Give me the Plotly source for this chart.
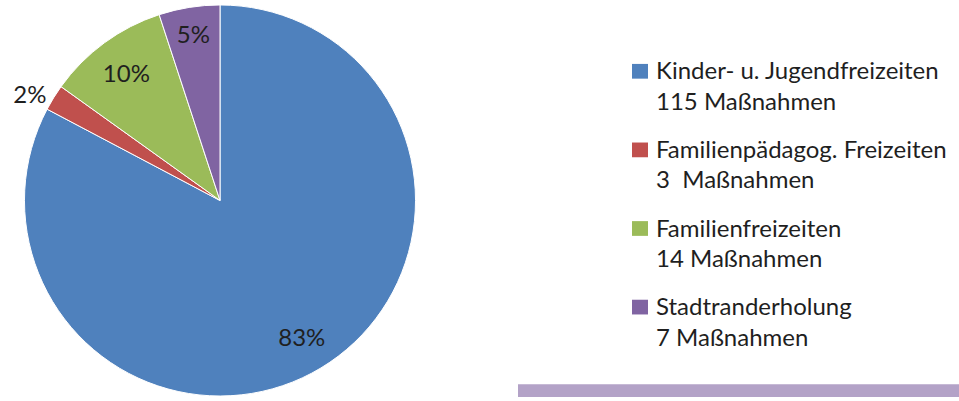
import plotly.graph_objects as go

categories = ["Kinder- u. Jugendfreizeiten", "Familienpädagog. Freizeiten",
              "Familienfreizeiten", "Stadtranderholung"]
counts = [115, 3, 14, 7]
count_labels = ["115 Maßnahmen", "3  Maßnahmen", "14 Maßnahmen", "7 Maßnahmen"]
colors = ["#4F81BD", "#C0504D", "#9BBB59", "#8064A2"]
text_positions = ["inside", "outside", "inside", "inside"]

W, H = 959, 401
FONT = "Lato"
TXT = "#1f1f1f"
FS = 24

domain = dict(x=[21 / W, 419 / W], y=[1 / H, 399 / H])

fig = go.Figure()
# filled pie (no text)
fig.add_trace(go.Pie(
    labels=categories,
    values=counts,
    sort=False,
    direction="clockwise",
    rotation=0,
    marker=dict(colors=colors, line=dict(color="white", width=1)),
    textinfo="none",
    domain=domain,
    showlegend=False,
    hoverinfo="label+value+percent",
))
# transparent ring carrying the percentage labels (places them at ~0.8 r)
fig.add_trace(go.Pie(
    labels=categories,
    values=counts,
    sort=False,
    direction="clockwise",
    rotation=0,
    hole=0.62,
    marker=dict(colors=["rgba(0,0,0,0)"] * len(counts), line=dict(width=0)),
    texttemplate="%{percent:.0%}",
    textposition=text_positions,
    insidetextorientation="horizontal",
    textfont=dict(family=FONT, size=FS, color=TXT),
    domain=domain,
    showlegend=False,
    hoverinfo="skip",
))

shapes = []
annotations = []
top0, step = 69, 80
for i, (cat, cl, col) in enumerate(zip(categories, count_labels, colors)):
    yc = top0 + i * step
    shapes.append(dict(type="rect", xref="paper", yref="paper",
                       x0=632 / W, x1=648 / W,
                       y0=1 - (yc + 8) / H, y1=1 - (yc - 7) / H,
                       fillcolor=col, line=dict(width=0)))
    annotations.append(dict(text=cat, xref="paper", yref="paper",
                            x=654 / W, y=1 - (yc - 1) / H, xanchor="left", yanchor="middle",
                            showarrow=False, font=dict(family=FONT, size=FS, color=TXT)))
    annotations.append(dict(text=cl, xref="paper", yref="paper",
                            x=654 / W, y=1 - (yc + 30) / H, xanchor="left", yanchor="middle",
                            showarrow=False, font=dict(family=FONT, size=FS, color=TXT)))

# decorative bar bottom right
shapes.append(dict(type="rect", xref="paper", yref="paper",
                   x0=518 / W, x1=1, y0=0, y1=13 / H,
                   fillcolor="#B3A2C7", line=dict(width=0)))

fig.update_layout(
    width=W, height=H,
    margin=dict(l=0, r=0, t=0, b=0),
    paper_bgcolor="white",
    plot_bgcolor="white",
    shapes=shapes,
    annotations=annotations,
)

fig.write_html("out.html",
               config={"displayModeBar": False},
               post_script="document.body.style.margin='0px';document.body.style.overflow='hidden';")
